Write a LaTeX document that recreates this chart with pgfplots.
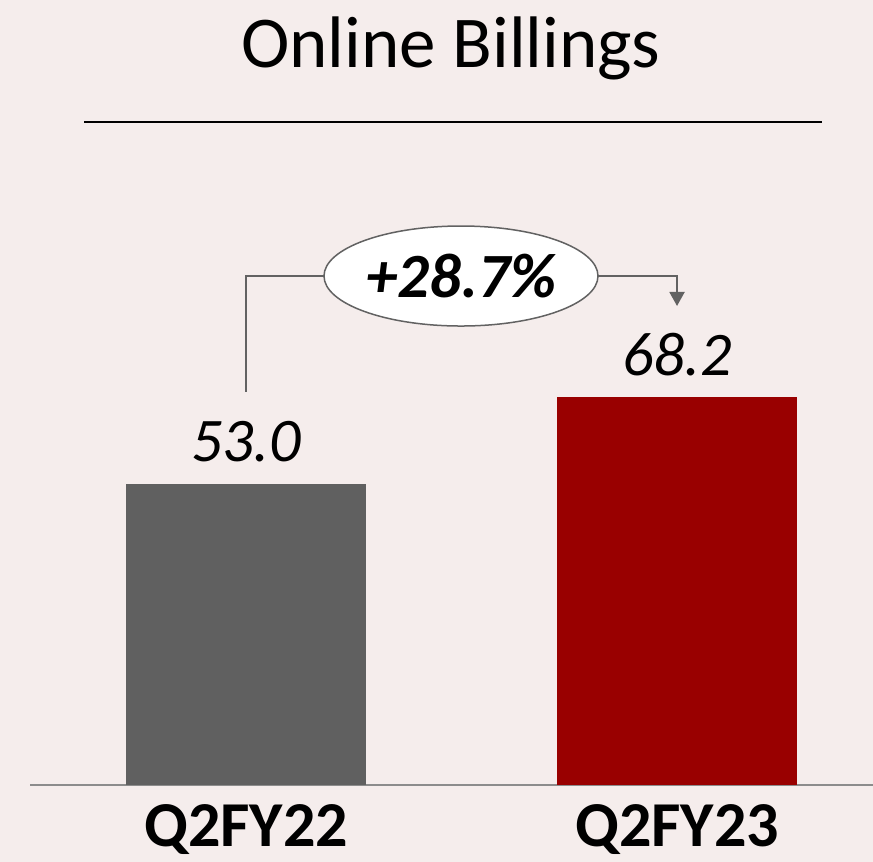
\documentclass[border=0pt]{standalone}
\usepackage{pgfplots}
\pgfplotsset{compat=1.18}
\usepackage{fontspec}
\setmainfont{Carlito}
\usetikzlibrary{arrows.meta,shapes.geometric}
\definecolor{bg}{HTML}{F5EDEC}
\definecolor{bargray}{HTML}{606060}
\definecolor{barred}{HTML}{990000}
\definecolor{conn}{HTML}{626262}
\definecolor{axgray}{HTML}{8C8C8C}
\begin{document}
\begin{tikzpicture}[x=1pt,y=1pt]
\fill[bg] (0,0) rectangle (873,862);
\useasboundingbox (0,0) rectangle (873,862);
\node[anchor=base, inner sep=0, font=\fontsize{73}{80}\selectfont] at (451,794) {Online Billings};
\draw[black, line width=1.5pt] (84,740) -- (822,740);
\begin{axis}[
  at={(30pt,77pt)}, anchor=south west,
  x=431pt, y=5.685pt,
  xmin=-0.5012, xmax=1.4548, ymin=0, ymax=120,
  hide y axis,
  axis x line=bottom,
  x axis line style={-, draw=axgray, line width=2pt},
  xtick={0,1}, xticklabels={Q2FY22,Q2FY23},
  major tick length=0,
  xticklabel style={anchor=base, yshift=-62pt, font=\fontsize{64}{70}\selectfont\bfseries},
  ybar, bar width=240pt, clip=false,
  nodes near coords,
  nodes near coords style={anchor=base, yshift=22pt, font=\fontsize{62}{70}\selectfont\itshape},
  /pgf/number format/fixed,
  /pgf/number format/fixed zerofill,
  /pgf/number format/precision=1,
  /pgf/number format/assume math mode=true,
]
\addplot[fill=bargray, draw=none, bar shift=0pt] coordinates {(0,53.0)};
\addplot[fill=barred, draw=none, bar shift=0pt] coordinates {(1,68.2)};
\draw[conn, line width=2pt] (axis cs:0,69.13) |- (axis cs:0.181,89.53);
\draw[conn, line width=2pt, -{Triangle[length=14pt,width=15pt]}] (axis cs:0.8167,89.53) -| (axis cs:1,84.26);
\node[ellipse, draw=conn, fill=white, line width=1.5pt, minimum width=274pt, minimum height=100pt, inner sep=0pt]
  at (axis cs:0.4988,89.53) {\fontsize{63}{70}\selectfont\bfseries\itshape +28.7\%};
\end{axis}
\end{tikzpicture}
\end{document}
